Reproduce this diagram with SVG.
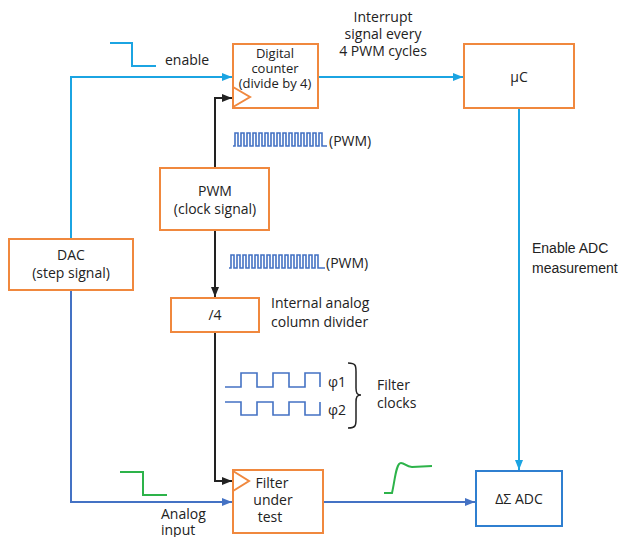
<svg xmlns="http://www.w3.org/2000/svg" width="630" height="537" viewBox="0 0 630 537">
  <style>
    .box { fill: #ffffff; stroke: #F0883E; stroke-width: 2; }
    .adc { fill: #ffffff; stroke: #2F7FD0; stroke-width: 2; }
    .t { font-family: "Open Sans", "Liberation Sans", sans-serif; font-size: 14px; fill: #222; }
    .ts { font-family: "Open Sans", "Liberation Sans", sans-serif; font-size: 13px; fill: #222; }
    .ta { font-family: "Liberation Sans", Arial, sans-serif; font-size: 14px; fill: #222; }
    .lb { fill: none; stroke: #1BA4E2; stroke-width: 2; }
    .db { fill: none; stroke: #4472C4; stroke-width: 2; }
    .bk { fill: none; stroke: #222; stroke-width: 2; }
    .wave { fill: none; stroke: #4472C4; stroke-width: 1.6; }
    .gr { fill: none; stroke: #2DB34A; stroke-width: 2; }
    .clk { fill: none; stroke: #F0883E; stroke-width: 2; }
  </style>
  <defs>
    <marker id="ah-lb" markerWidth="10" markerHeight="8" refX="10" refY="4" orient="auto" markerUnits="userSpaceOnUse">
      <path d="M0,0 L10,4 L0,8 Z" fill="#1BA4E2"/>
    </marker>
    <marker id="ah-db" markerWidth="10" markerHeight="8" refX="10" refY="4" orient="auto" markerUnits="userSpaceOnUse">
      <path d="M0,0 L10,4 L0,8 Z" fill="#4472C4"/>
    </marker>
    <marker id="ah-bk" markerWidth="10" markerHeight="8" refX="10" refY="4" orient="auto" markerUnits="userSpaceOnUse">
      <path d="M0,0 L10,4 L0,8 Z" fill="#222"/>
    </marker>
  </defs>

  <!-- connectors -->
  <g id="connectors">
    <path class="lb" d="M71,239 L71,77 L232,77" marker-end="url(#ah-lb)"/>
    <path class="lb" d="M318,77 L463,77" marker-end="url(#ah-lb)"/>
    <path class="lb" d="M519,108 L519,470" marker-end="url(#ah-lb)"/>
    <path class="db" d="M71,290 L71,502 L232,502" marker-end="url(#ah-db)"/>
    <path class="db" d="M323,502 L475,502" marker-end="url(#ah-db)"/>
    <path class="bk" d="M215,168 L215,98 L232,98" marker-end="url(#ah-bk)"/>
    <path class="bk" d="M215,230 L215,297" marker-end="url(#ah-bk)"/>
    <path class="bk" d="M215,332 L215,481 L232,481" marker-end="url(#ah-bk)"/>
  </g>

  <!-- signal sketches -->
  <g id="signals">
    <path class="lb" d="M110,43 L132,43 L132,66 L156,66"/>
    <path class="gr" d="M120,472 L143,472 L143,495 L167,495"/>
    <path class="gr" d="M384,493 L392,493 C395,480 396,463 401,463 C405,463 406,467 412,467 L432,466"/>
    <path class="wave" d="M233,146 L235,146 L235,133 L238,133 L238,146 L241,146 L241,133 L244,133 L244,146 L247,146 L247,133 L250,133 L250,146 L253,146 L253,133 L256,133 L256,146 L259,146 L259,133 L262,133 L262,146 L265,146 L265,133 L268,133 L268,146 L271,146 L271,133 L274,133 L274,146 L277,146 L277,133 L280,133 L280,146 L283,146 L283,133 L286,133 L286,146 L289,146 L289,133 L292,133 L292,146 L295,146 L295,133 L298,133 L298,146 L301,146 L301,133 L304,133 L304,146 L307,146 L307,133 L310,133 L310,146 L313,146 L313,133 L316,133 L316,146 L319,146 L319,133 L322,133 L322,146 L327,146"/>
    <path class="wave" d="M229,268 L231,268 L231,255 L234,255 L234,268 L237,268 L237,255 L240,255 L240,268 L243,268 L243,255 L246,255 L246,268 L249,268 L249,255 L252,255 L252,268 L255,268 L255,255 L258,255 L258,268 L261,268 L261,255 L264,255 L264,268 L267,268 L267,255 L270,255 L270,268 L273,268 L273,255 L276,255 L276,268 L279,268 L279,255 L282,255 L282,268 L285,268 L285,255 L288,255 L288,268 L291,268 L291,255 L294,255 L294,268 L297,268 L297,255 L300,255 L300,268 L303,268 L303,255 L306,255 L306,268 L309,268 L309,255 L312,255 L312,268 L315,268 L315,255 L318,255 L318,268 L325,268"/>
    <path class="wave" d="M225,387 L241,387 L241,373 L257,373 L257,387 L273,387 L273,373 L289,373 L289,387 L305,387 L305,373 L320,373 L320,387"/>
    <path class="wave" d="M225,402 L241,402 L241,415 L257,415 L257,402 L273,402 L273,415 L289,415 L289,402 L305,402 L305,415 L320,415 L320,402"/>
    <path d="M348,363 C356,363 356,366 356,372 L356,388 C356,393 357,395 361,395 C357,395 356,397 356,402 L356,419 C356,425 356,428 348,428" fill="none" stroke="#222" stroke-width="1.5"/>
  </g>

  <!-- labels -->
  <g id="labels">
    <text class="t" x="165" y="65">enable</text>
    <text class="t" x="383" y="22" text-anchor="middle">Interrupt</text>
    <text class="t" x="383" y="39" text-anchor="middle">signal every</text>
    <text class="t" x="383" y="56" text-anchor="middle">4 PWM cycles</text>
    <text class="t" x="329" y="146">(PWM)</text>
    <text class="t" x="326" y="268">(PWM)</text>
    <text class="t" x="271" y="308">Internal analog</text>
    <text class="t" x="271" y="327">column divider</text>
    <text class="t" x="328" y="387" font-size="15">φ1</text>
    <text class="t" x="328" y="415" font-size="15">φ2</text>
    <text class="t" x="377" y="390">Filter</text>
    <text class="t" x="377" y="408">clocks</text>
    <text class="ta" x="532" y="253">Enable ADC</text>
    <text class="ta" x="532" y="273">measurement</text>
    <text class="t" x="161" y="519">Analog</text>
    <text class="t" x="161" y="535">input</text>
  </g>

  <!-- nodes -->
  <g id="counter">
    <rect class="box" x="233" y="44" width="85" height="64"/>
    <path class="clk" d="M233,87 L250,97 L233,107"/>
    <text class="ts" x="275" y="58" text-anchor="middle">Digital</text>
    <text class="ts" x="275" y="73" text-anchor="middle">counter</text>
    <text class="ts" x="275" y="88" text-anchor="middle">(divide by 4)</text>
  </g>
  <g id="uc">
    <rect class="box" x="464" y="44" width="110" height="64"/>
    <text class="t" x="519" y="82" text-anchor="middle">μC</text>
  </g>
  <g id="pwm">
    <rect class="box" x="160" y="168" width="109" height="62"/>
    <text class="t" x="215" y="196" text-anchor="middle">PWM</text>
    <text class="t" x="215" y="214" text-anchor="middle">(clock signal)</text>
  </g>
  <g id="dac">
    <rect class="box" x="9" y="239" width="124" height="51"/>
    <text class="t" x="71" y="260" text-anchor="middle">DAC</text>
    <text class="t" x="71" y="278" text-anchor="middle">(step signal)</text>
  </g>
  <g id="div4">
    <rect class="box" x="171" y="298" width="88" height="34"/>
    <text class="t" x="215" y="320" text-anchor="middle">/4</text>
  </g>
  <g id="filter">
    <rect class="box" x="233" y="470" width="90" height="63"/>
    <path class="clk" d="M233,471 L249,481 L233,491"/>
    <text class="t" x="272" y="488" text-anchor="middle" font-size="15">Filter</text>
    <text class="t" x="273" y="505" text-anchor="middle" font-size="15">under</text>
    <text class="t" x="270" y="522" text-anchor="middle" font-size="15">test</text>
  </g>
  <g id="adc">
    <rect class="adc" x="476" y="471" width="86" height="55"/>
    <text class="t" x="519" y="504" text-anchor="middle">ΔΣ ADC</text>
  </g>
</svg>
